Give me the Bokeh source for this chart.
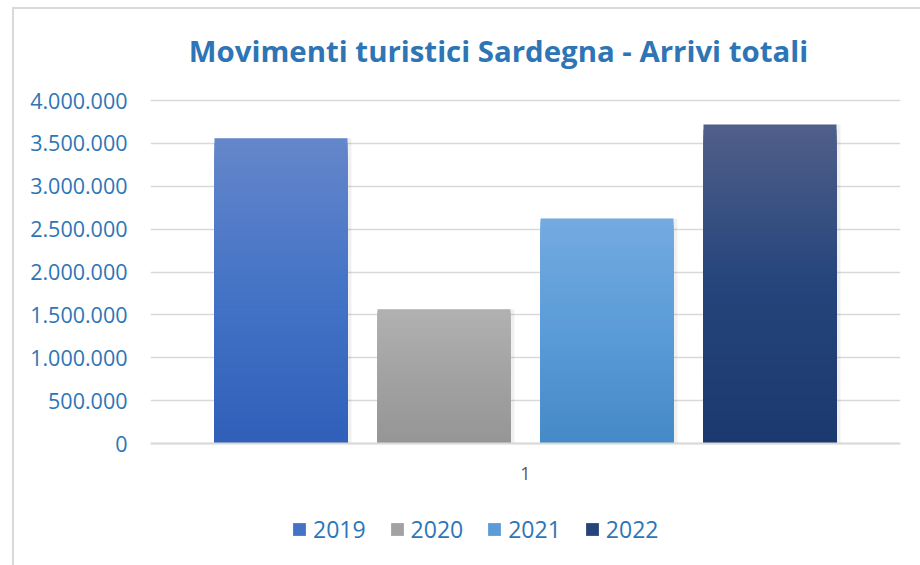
from bokeh.plotting import figure
from bokeh.models import ColumnDataSource, FactorRange, Range1d, FixedTicker, Legend, LegendItem, Label
from bokeh.transform import dodge
from bokeh.embed import file_html
from bokeh.resources import INLINE

title_text = "Movimenti turistici Sardegna - Arrivi totali"
category = ["1"]
years = ["2019", "2020", "2021", "2022"]
arrivals = [3560000, 1565000, 2625000, 3720000]
y_ticks = [0, 500000, 1000000, 1500000, 2000000, 2500000, 3000000, 3500000, 4000000]
y_tick_labels = ["0", "500.000", "1.000.000", "1.500.000", "2.000.000",
                 "2.500.000", "3.000.000", "3.500.000", "4.000.000"]
top_colors = ["#6486CA", "#B1B1B1", "#74AAE0", "#505F8A"]
mid_colors = ["#4473C6", "#A2A2A2", "#5A9BD8", "#24447B"]
bottom_colors = ["#2F5FB8", "#959595", "#4589C7", "#1B396E"]

BLUE = "#2E75B6"
FONT = "Open Sans"

# layout (pixels)
W, H = 920, 565
frame_left, frame_right = 150, 900
y_top_px, y_zero_px = 100, 443          # pixel rows of the 4.000.000 and 0 gridlines
title_center_px, title_baseline_px = 498, 50
y_max = y_ticks[-1]
unit_per_px = y_max / (y_zero_px - y_top_px)
y_start = -unit_per_px * (H - y_zero_px)
y_end = y_max + unit_per_px * y_top_px
frame_w = frame_right - frame_left

p = figure(width=W, height=H, output_backend="svg", toolbar_location=None, title=None,
           x_range=FactorRange(factors=category, range_padding=0),
           y_range=Range1d(y_start, y_end),
           min_border_left=frame_left, min_border_right=W - frame_right,
           min_border_top=0, min_border_bottom=0,
           styles={"background-color": "white",
                   "background-image": "linear-gradient(#D9D9D9,#D9D9D9), linear-gradient(#D9D9D9,#D9D9D9)",
                   "background-size": "2px 100%, 100% 2px",
                   "background-position": "12px 7px, 12px 7px",
                   "background-repeat": "no-repeat"})
p.outline_line_color = None
p.background_fill_color = None
p.border_fill_color = None

p.add_layout(Label(x=(title_center_px - frame_left) / frame_w,
                   y=y_max + unit_per_px * (y_top_px - title_baseline_px),
                   text=title_text, text_align="center", text_baseline="alphabetic",
                   text_font=FONT, text_font_size="29.4px", text_font_style="bold",
                   text_color=BLUE))


def hex2rgb(h):
    h = h.lstrip("#")
    return [int(h[i:i + 2], 16) for i in (0, 2, 4)]


def mix(c1, c2, t):
    a, b = hex2rgb(c1), hex2rgb(c2)
    return "#%02x%02x%02x" % tuple(round(a[k] + (b[k] - a[k]) * t) for k in range(3))


def grad(bot, mid, top, f):
    if f <= 0.5:
        return mix(bot, mid, f / 0.5)
    return mix(mid, top, (f - 0.5) / 0.5)


n = 60
spacing = 163 / frame_w
bar_w = 133 / frame_w
items = []
for i, (yr, v) in enumerate(zip(years, arrivals)):
    off = (i - 1.5) * spacing
    tops, cols = [], []
    for k in range(n):
        f = (n - k) / n
        tops.append(v * f)
        cols.append(grad(bottom_colors[i], mid_colors[i], top_colors[i], f))
    sh = ColumnDataSource(dict(x=category, top=[v]))
    p.vbar(x=dodge("x", off + 2 / frame_w, range=p.x_range), top="top", bottom=0,
           width=bar_w + 4 / frame_w, source=sh, fill_color="black", fill_alpha=0.06, line_color=None)
    src = ColumnDataSource(dict(x=category * n, top=tops, color=cols))
    r = p.vbar(x=dodge("x", off, range=p.x_range), top="top", bottom=0, width=bar_w,
               source=src, fill_color="color", line_color=None)
    items.append(LegendItem(label=yr, renderers=[r], index=n // 2))

p.ygrid.grid_line_color = "#D9D9D9"
p.ygrid.grid_line_width = 1.5
p.xgrid.grid_line_color = None

p.yaxis.ticker = FixedTicker(ticks=y_ticks)
p.yaxis.major_label_overrides = {t: l for t, l in zip(y_ticks, y_tick_labels)}
p.yaxis.axis_line_color = None
p.yaxis.major_tick_line_color = None
p.yaxis.minor_tick_line_color = None
p.yaxis.major_tick_out = 0
p.yaxis.major_tick_in = 0
p.yaxis.major_label_standoff = 23
p.yaxis.major_label_text_font = FONT
p.yaxis.major_label_text_font_size = "21.5px"
p.yaxis.major_label_text_color = BLUE

p.xaxis.fixed_location = 0
p.xaxis.axis_line_color = "#D9D9D9"
p.xaxis.axis_line_width = 2
p.xaxis.major_tick_line_color = None
p.xaxis.major_tick_out = 0
p.xaxis.major_tick_in = 0
p.xaxis.major_label_standoff = 23
p.xaxis.major_label_text_font = FONT
p.xaxis.major_label_text_font_size = "18px"
p.xaxis.major_label_text_color = "#595959"

legend = Legend(items=items, orientation="horizontal", location=(141, 20),
                glyph_width=16, glyph_height=16, label_standoff=6, spacing=23,
                padding=0, margin=0, border_line_color=None, background_fill_alpha=0,
                label_text_font=FONT, label_text_font_size="23px", label_text_color=BLUE)
p.add_layout(legend, "center")

open("out.html", "w").write(file_html(p, INLINE))
